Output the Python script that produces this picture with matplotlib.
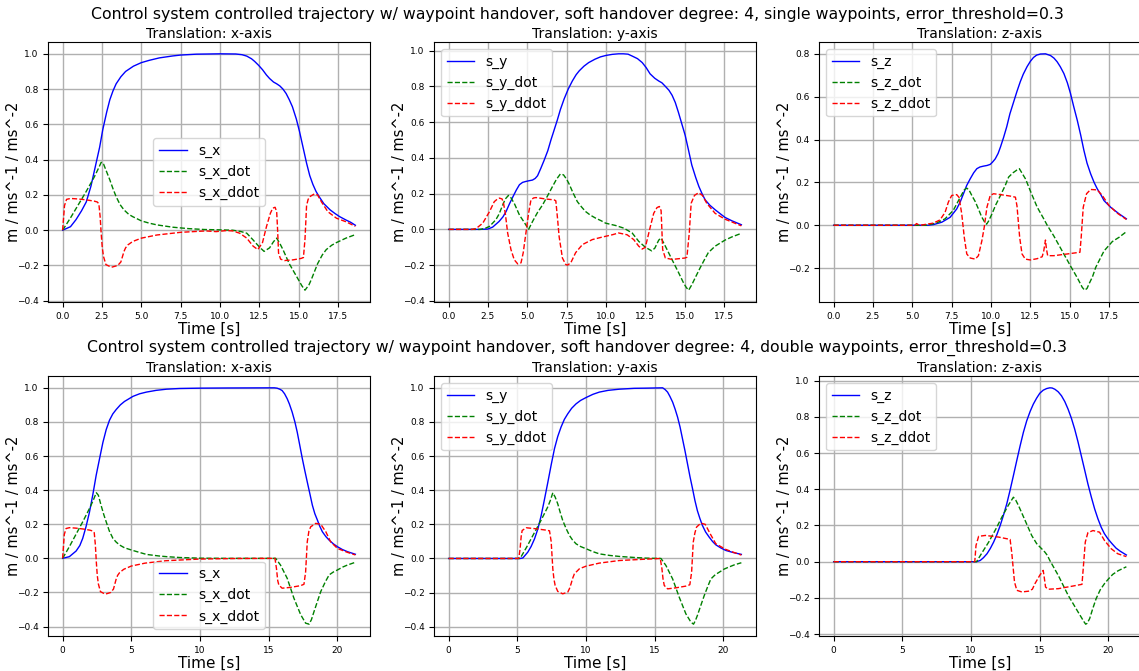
import matplotlib
matplotlib.use("Agg")
import matplotlib.pyplot as plt

# ---- single waypoints run (top row) ----
top_x_t = [0, 0.5, 0.85, 1.2, 1.5, 1.8, 2.1, 2.35, 2.55, 2.8, 3.0, 3.2, 3.4, 3.7, 4.0, 4.5, 5.0, 5.5, 6.15, 7.0, 7.5, 8.5,
           10.0, 11.0, 11.4, 11.7, 12.0, 12.2, 12.45, 12.7, 12.95, 13.15, 13.4, 13.6, 13.8, 14.0, 14.2, 14.4, 14.6, 14.85,
           15.05, 15.2, 15.35, 15.5, 15.7, 15.9, 16.1, 16.3, 16.6, 17.0, 17.3, 17.6, 18.0, 18.3, 18.6]
top_x = [0, 0.02, 0.06, 0.11, 0.16, 0.25, 0.37, 0.47, 0.57, 0.67, 0.74, 0.79, 0.83, 0.87, 0.90, 0.93, 0.95, 0.963, 0.977,
         0.988, 0.993, 0.998, 1.0, 0.999, 0.995, 0.987, 0.972, 0.957, 0.935, 0.91, 0.88, 0.86, 0.84, 0.83, 0.818, 0.80,
         0.775, 0.74, 0.70, 0.63, 0.56, 0.50, 0.44, 0.38, 0.31, 0.26, 0.22, 0.19, 0.15, 0.115, 0.095, 0.077, 0.058, 0.045,
         0.028]
top_x_dot_t = [0, 0.5, 1.0, 1.5, 2.0, 2.3, 2.45, 2.6, 2.8, 3.0, 3.2, 3.4, 3.65, 3.9, 4.2, 4.45, 5.0, 5.5, 6.0, 7.0, 8.0,
               9.0, 10.0, 10.8, 11.3, 11.7, 12.1, 12.5, 12.8, 13.15, 13.4, 13.6, 13.8, 14.0, 14.4, 14.85, 15.2, 15.4,
               15.65, 15.8, 16.0, 16.2, 16.5, 16.75, 17.1, 17.4, 18.0, 18.6]
top_x_dot = [0, 0.07, 0.145, 0.22, 0.3, 0.355, 0.385, 0.375, 0.33, 0.285, 0.235, 0.19, 0.145, 0.115, 0.09, 0.077, 0.053,
             0.04, 0.03, 0.017, 0.009, 0.004, 0.002, 0.0, -0.007, -0.017, -0.055, -0.095, -0.12, -0.1, -0.065, -0.045,
             -0.075, -0.11, -0.19, -0.26, -0.315, -0.34, -0.31, -0.28, -0.235, -0.19, -0.14, -0.11, -0.085, -0.07,
             -0.045, -0.025]
top_x_ddot_t = [0, 0.12, 0.25, 0.5, 1.0, 1.5, 2.0, 2.2, 2.3, 2.38, 2.45, 2.52, 2.6, 2.75, 3.1, 3.5, 3.7, 3.8, 3.9, 4.0,
                4.15, 4.45, 5.0, 6.0, 7.5, 9.1, 9.75, 10.4, 10.8, 11.25, 11.7, 12.1, 12.4, 12.7, 12.95, 13.2, 13.35,
                13.5, 13.6, 13.66, 13.72, 13.85, 14.1, 14.65, 15.15, 15.3, 15.4, 15.5, 15.6, 15.7, 16.0, 16.2, 16.45,
                16.85, 17.4, 18.0, 18.6]
top_x_ddot = [0, 0.14, 0.175, 0.18, 0.177, 0.172, 0.165, 0.16, 0.15, 0.08, -0.02, -0.1, -0.15, -0.195, -0.21, -0.2,
              -0.18, -0.15, -0.12, -0.1, -0.083, -0.064, -0.045, -0.027, -0.012, -0.004, -0.008, -0.002, -0.004,
              -0.017, -0.045, -0.09, -0.11, -0.07, 0.02, 0.096, 0.125, 0.13, 0.105, 0.0, -0.13, -0.164, -0.172,
              -0.168, -0.16, -0.155, -0.05, 0.14, 0.175, 0.19, 0.206, 0.2, 0.16, 0.105, 0.068, 0.048, 0.022]

top_y_t = [0, 1.0, 2.0, 2.5, 2.8, 3.2, 3.45, 3.65, 3.85, 4.07, 4.3, 4.5, 4.7, 4.9, 5.1, 5.33, 5.5, 5.65, 5.85, 6.07, 6.3,
           6.5, 6.7, 6.9, 7.1, 7.34, 7.6, 7.86, 8.1, 8.3, 8.6, 8.9, 9.3, 9.65, 10.0, 10.4, 10.8, 11.1, 11.4, 11.65,
           12.0, 12.3, 12.55, 12.8, 13.1, 13.35, 13.55, 13.77, 14.0, 14.2, 14.4, 14.6, 14.8, 15.03, 15.25, 15.45, 15.7,
           15.9, 16.1, 16.3, 16.6, 16.93, 17.25, 17.56, 18.0, 18.6]
top_y = [0, 0, 0.0, 0.002, 0.013, 0.044, 0.07, 0.1, 0.14, 0.18, 0.22, 0.25, 0.263, 0.268, 0.272, 0.276, 0.285, 0.30,
         0.34, 0.387, 0.44, 0.5, 0.555, 0.61, 0.67, 0.73, 0.785, 0.83, 0.865, 0.887, 0.913, 0.933, 0.952, 0.965, 0.973,
         0.979, 0.982, 0.982, 0.98, 0.97, 0.955, 0.933, 0.905, 0.87, 0.845, 0.83, 0.82, 0.80, 0.778, 0.75, 0.71, 0.655,
         0.595, 0.526, 0.44, 0.36, 0.29, 0.24, 0.2, 0.165, 0.135, 0.11, 0.088, 0.067, 0.048, 0.026]
top_y_dot_t = [0, 2.0, 2.3, 2.6, 3.0, 3.2, 3.44, 3.6, 3.8, 3.96, 4.2, 4.5, 4.8, 5.08, 5.33, 5.65, 5.97, 6.3, 6.6, 6.85,
               7.1, 7.3, 7.5, 7.65, 7.9, 8.18, 8.45, 8.7, 9.0, 9.34, 9.7, 9.97, 10.3, 10.6, 11.13, 11.66, 12.08, 12.5,
               12.9, 13.1, 13.35, 13.5, 13.77, 14.2, 14.6, 14.93, 15.1, 15.25, 15.45, 15.67, 15.98, 16.25, 16.5, 16.93,
               17.56, 18.0, 18.6]
top_y_dot = [0, 0, 0.005, 0.017, 0.054, 0.085, 0.137, 0.17, 0.19, 0.177, 0.14, 0.08, 0.04, 0.0, 0.044, 0.095, 0.137,
             0.19, 0.24, 0.28, 0.31, 0.305, 0.28, 0.255, 0.205, 0.155, 0.125, 0.1, 0.08, 0.063, 0.048, 0.035, 0.028,
             0.022, 0.007, -0.02, -0.067, -0.1, -0.12, -0.105, -0.06, -0.048, -0.094, -0.17, -0.24, -0.3, -0.325,
             -0.34, -0.31, -0.27, -0.215, -0.17, -0.13, -0.094, -0.06, -0.042, -0.022]
top_y_ddot_t = [0, 1.5, 1.75, 2.17, 2.6, 2.9, 3.1, 3.23, 3.4, 3.5, 3.6, 3.75, 3.96, 4.17, 4.39, 4.6, 4.74, 4.91, 5.08,
                5.23, 5.4, 5.55, 6.18, 6.7, 6.81, 6.92, 7.02, 7.23, 7.44, 7.55, 7.76, 8.07, 8.5, 9.13, 9.76, 10.4, 10.8,
                11.34, 11.76, 12.08, 12.3, 12.5, 12.82, 13.03, 13.24, 13.39, 13.5, 13.6, 13.77, 14.2, 15.03, 15.14,
                15.29, 15.41, 15.62, 15.88, 16.13, 16.4, 16.93, 17.56, 18.6]
top_y_ddot = [0, 0, 0.005, 0.035, 0.1, 0.155, 0.17, 0.175, 0.17, 0.14, 0.09, -0.02, -0.113, -0.17, -0.193, -0.187,
              -0.13, -0.02, 0.09, 0.165, 0.176, 0.178, 0.17, 0.165, 0.16, 0.06, -0.04, -0.16, -0.196, -0.2, -0.187,
              -0.13, -0.085, -0.057, -0.043, -0.03, -0.02, -0.03, -0.057, -0.094, -0.11, -0.1, 0.017, 0.09, 0.122,
              0.128, 0.105, -0.113, -0.16, -0.168, -0.16, -0.155, -0.02, 0.146, 0.19, 0.205, 0.19, 0.146, 0.09, 0.057,
              0.02]

top_z_t = [0, 5.0, 6.0, 6.34, 6.87, 7.4, 7.82, 8.05, 8.25, 8.45, 8.68, 8.9, 9.1, 9.3, 9.53, 9.75, 9.95, 10.1, 10.27,
           10.45, 10.6, 10.8, 11.0, 11.2, 11.44, 11.65, 11.86, 12.05, 12.29, 12.5, 12.7, 12.9, 13.14, 13.46, 13.78,
           14.0, 14.2, 14.4, 14.63, 14.85, 15.05, 15.25, 15.48, 15.7, 15.9, 16.1, 16.33, 16.55, 16.75, 17.0, 17.18,
           17.6, 18.14, 18.6]
top_z = [0, 0, 0.0, 0.003, 0.014, 0.037, 0.076, 0.11, 0.147, 0.185, 0.217, 0.245, 0.264, 0.272, 0.276, 0.279, 0.284,
         0.295, 0.31, 0.335, 0.365, 0.41, 0.46, 0.52, 0.576, 0.625, 0.67, 0.705, 0.74, 0.765, 0.783, 0.794, 0.799, 0.8,
         0.792, 0.78, 0.763, 0.74, 0.708, 0.665, 0.615, 0.555, 0.49, 0.42, 0.35, 0.29, 0.24, 0.2, 0.17, 0.14, 0.115,
         0.084, 0.053, 0.03]
top_z_dot_t = [0, 5.5, 5.9, 6.55, 7.08, 7.6, 8.04, 8.3, 8.46, 8.6, 8.78, 9.0, 9.2, 9.4, 9.63, 9.72, 9.85, 10.06, 10.3,
               10.6, 10.9, 11.12, 11.4, 11.65, 11.8, 12.2, 12.5, 12.93, 13.35, 13.57, 13.99, 14.52, 15.05, 15.48, 15.8,
               15.95, 16.1, 16.22, 16.45, 16.65, 17.18, 17.71, 18.14, 18.6]
top_z_dot = [0, 0, 0.0, 0.011, 0.03, 0.069, 0.13, 0.165, 0.173, 0.165, 0.139, 0.11, 0.076, 0.04, 0.01, 0.005, 0.02,
             0.053, 0.095, 0.139, 0.185, 0.225, 0.245, 0.258, 0.264, 0.215, 0.16, 0.085, 0.03, 0.0, -0.05, -0.12,
             -0.19, -0.245, -0.29, -0.303, -0.295, -0.275, -0.24, -0.197, -0.12, -0.076, -0.056, -0.03]
top_z_ddot_t = [0, 5.15, 5.27, 5.4, 5.5, 6.34, 6.76, 7.08, 7.29, 7.5, 7.82, 7.97, 8.14, 8.3, 8.46, 8.68, 9.0, 9.2, 9.42,
                9.57, 9.74, 9.95, 10.16, 10.6, 11.23, 11.55, 11.65, 11.82, 11.97, 12.18, 12.5, 12.93, 13.25, 13.35,
                13.46, 13.52, 13.6, 13.99, 14.84, 15.65, 15.73, 15.86, 16.07, 16.33, 16.75, 17.07, 17.5, 18.03, 18.6]
top_z_ddot = [0, 0, 0.008, 0.002, 0.0, 0.01, 0.025, 0.06, 0.108, 0.139, 0.143, 0.13, 0.053, -0.056, -0.134, -0.153,
              -0.158, -0.142, -0.072, -0.009, 0.084, 0.139, 0.147, 0.143, 0.136, 0.131, 0.09, -0.056, -0.134, -0.158,
              -0.162, -0.156, -0.147, -0.12, -0.069, -0.11, -0.142, -0.142, -0.134, -0.126, -0.056, 0.084, 0.147,
              0.167, 0.165, 0.139, 0.092, 0.056, 0.027]

# ---- double waypoints run (bottom row) ----
bot_x_t = [0, 0.49, 0.98, 1.25, 1.46, 1.7, 1.95, 2.2, 2.44, 2.7, 2.93, 3.17, 3.41, 3.65, 3.9, 4.2, 4.5, 5.12, 5.6, 6.1,
           6.8, 7.56, 8.5, 10.0, 12.0, 15.4, 15.6, 15.8, 15.97, 16.15, 16.34, 16.5, 16.7, 16.9, 17.07, 17.25, 17.44,
           17.62, 17.8, 18.0, 18.17, 18.35, 18.54, 18.7, 18.9, 19.15, 19.39, 19.7, 20.0, 20.35, 20.73, 21.3]
bot_x = [0, 0.01, 0.043, 0.075, 0.117, 0.185, 0.27, 0.375, 0.487, 0.59, 0.68, 0.755, 0.81, 0.847, 0.873, 0.9, 0.92,
         0.95, 0.965, 0.975, 0.985, 0.992, 0.996, 0.998, 0.999, 1.0, 0.998, 0.992, 0.984, 0.965, 0.936, 0.905, 0.858,
         0.8, 0.74, 0.665, 0.585, 0.515, 0.448, 0.375, 0.312, 0.262, 0.224, 0.19, 0.156, 0.128, 0.107, 0.085, 0.068,
         0.052, 0.039, 0.024]
bot_x_dot_t = [0, 0.5, 1.0, 1.5, 2.0, 2.25, 2.45, 2.6, 2.8, 3.0, 3.17, 3.4, 3.66, 3.9, 4.15, 4.5, 5.0, 5.5, 6.1, 7.0,
               7.56, 8.5, 10.0, 12.0, 15.5, 15.85, 16.34, 16.83, 17.32, 17.68, 17.93, 18.1, 18.3, 18.55, 18.78, 19.1,
               19.39, 19.7, 20.0, 20.35, 20.73, 21.3]
bot_x_dot = [0, 0.07, 0.145, 0.22, 0.3, 0.345, 0.385, 0.37, 0.31, 0.255, 0.214, 0.16, 0.117, 0.095, 0.078, 0.062,
             0.049, 0.037, 0.023, 0.014, 0.01, 0.005, 0.001, 0.0, 0.0, -0.039, -0.117, -0.234, -0.33, -0.38, -0.386,
             -0.36, -0.31, -0.25, -0.195, -0.14, -0.097, -0.08, -0.068, -0.052, -0.039, -0.023]
bot_x_ddot_t = [0, 0.12, 0.25, 0.5, 1.0, 1.5, 2.0, 2.2, 2.3, 2.38, 2.45, 2.52, 2.6, 2.75, 3.1, 3.5, 3.7, 3.8, 3.9, 4.0,
                4.15, 4.45, 5.0, 6.0, 7.5, 10.0, 12.5, 15.45, 15.56, 15.65, 15.73, 15.97, 16.6, 17.32, 17.56, 17.68,
                17.8, 17.92, 18.05, 18.41, 18.78, 19.15, 19.5, 20.0, 20.73, 21.3]
bot_x_ddot = [0, 0.14, 0.175, 0.18, 0.177, 0.172, 0.165, 0.16, 0.15, 0.08, -0.02, -0.1, -0.15, -0.195, -0.21, -0.2,
              -0.18, -0.15, -0.12, -0.1, -0.083, -0.064, -0.045, -0.028, -0.014, -0.004, -0.001, 0.0, -0.06, -0.13,
              -0.156, -0.175, -0.17, -0.16, -0.152, -0.08, 0.097, 0.16, 0.185, 0.205, 0.2, 0.156, 0.097, 0.058, 0.035,
              0.02]

bot_y_t = [0, 5.2, 5.4, 5.76, 6.0, 6.25, 6.5, 6.73, 6.97, 7.22, 7.46, 7.7, 7.94, 8.18, 8.42, 8.67, 8.95, 9.27, 9.6, 10.0,
           10.5, 10.97, 11.6, 12.42, 13.5, 14.36, 15.57, 15.75, 15.93, 16.1, 16.3, 16.48, 16.66, 16.84, 17.02, 17.2,
           17.38, 17.56, 17.75, 17.92, 18.1, 18.28, 18.47, 18.7, 18.96, 19.2, 19.44, 19.8, 20.17, 20.7, 21.3]
bot_y = [0, 0, 0.003, 0.037, 0.07, 0.115, 0.175, 0.25, 0.345, 0.447, 0.548, 0.643, 0.715, 0.77, 0.815, 0.848, 0.88,
         0.906, 0.926, 0.943, 0.962, 0.975, 0.985, 0.992, 0.997, 0.998, 1.0, 0.99, 0.975, 0.95, 0.916, 0.875, 0.828,
         0.77, 0.70, 0.63, 0.555, 0.48, 0.408, 0.34, 0.28, 0.235, 0.193, 0.155, 0.125, 0.1, 0.08, 0.062, 0.047, 0.035,
         0.024]
bot_y_dot_t = [0, 5.2, 5.7, 6.2, 6.7, 7.2, 7.4, 7.58, 7.75, 7.94, 8.1, 8.3, 8.55, 8.79, 9.0, 9.27, 9.6, 10.0, 10.5,
               10.97, 11.7, 12.42, 13.5, 14.36, 15.45, 15.81, 16.3, 16.78, 17.26, 17.63, 17.82, 17.95, 18.1, 18.35,
               18.6, 18.85, 19.08, 19.4, 19.7, 20.05, 20.4, 20.8, 21.3]
bot_y_dot = [0, 0, 0.07, 0.145, 0.22, 0.3, 0.34, 0.385, 0.36, 0.32, 0.275, 0.223, 0.175, 0.135, 0.11, 0.086, 0.07,
             0.057, 0.04, 0.027, 0.018, 0.012, 0.006, 0.002, 0.0, -0.041, -0.12, -0.227, -0.324, -0.373, -0.385,
             -0.365, -0.334, -0.275, -0.217, -0.165, -0.12, -0.095, -0.08, -0.062, -0.05, -0.037, -0.025]
bot_y_ddot_t = [0, 5.1, 5.2, 5.28, 5.35, 5.64, 6.37, 7.1, 7.34, 7.46, 7.58, 7.66, 7.75, 7.94, 8.3, 8.67, 8.8, 8.91,
                9.03, 9.15, 9.52, 10.0, 10.97, 12.42, 14.36, 15.4, 15.52, 15.6, 15.69, 15.93, 16.54, 17.26, 17.55,
                17.68, 17.8, 17.92, 18.04, 18.35, 18.67, 19.03, 19.44, 20.17, 20.7, 21.3]
bot_y_ddot = [0, 0, 0.057, 0.13, 0.164, 0.18, 0.174, 0.166, 0.162, 0.1, -0.06, -0.12, -0.158, -0.193, -0.207, -0.197,
              -0.175, -0.148, -0.115, -0.09, -0.06, -0.045, -0.027, -0.012, -0.004, 0.0, -0.06, -0.12, -0.158, -0.178,
              -0.172, -0.162, -0.154, -0.08, 0.096, 0.15, 0.184, 0.207, 0.2, 0.145, 0.086, 0.053, 0.037, 0.02]

bot_z_t = [0, 10.4, 10.67, 10.9, 11.16, 11.4, 11.64, 11.88, 12.12, 12.36, 12.6, 12.84, 13.08, 13.33, 13.57, 13.81,
           14.05, 14.3, 14.53, 14.77, 15.0, 15.25, 15.5, 15.73, 15.9, 16.1, 16.34, 16.58, 16.82, 17.06, 17.3, 17.54,
           17.78, 18.02, 18.26, 18.5, 18.75, 18.99, 19.23, 19.47, 19.7, 19.95, 20.25, 20.55, 20.85, 21.3]
bot_z = [0, 0, 0.007, 0.022, 0.044, 0.073, 0.108, 0.15, 0.2, 0.257, 0.32, 0.395, 0.475, 0.56, 0.64, 0.715, 0.778, 0.83,
         0.87, 0.903, 0.93, 0.947, 0.956, 0.96, 0.959, 0.952, 0.938, 0.916, 0.884, 0.842, 0.792, 0.732, 0.662, 0.585,
         0.508, 0.43, 0.357, 0.292, 0.237, 0.19, 0.155, 0.127, 0.1, 0.075, 0.058, 0.037]
bot_z_dot_t = [0, 10.4, 10.8, 11.28, 11.8, 12.24, 12.7, 13.08, 13.25, 13.45, 13.93, 14.41, 14.77, 15.13, 15.37, 15.55,
               15.73, 16.34, 17.06, 17.78, 18.22, 18.34, 18.45, 18.63, 18.85, 19.1, 19.4, 19.71, 20.0, 20.31, 20.7,
               21.3]
bot_z_dot = [0, 0, 0.05, 0.108, 0.18, 0.246, 0.31, 0.356, 0.34, 0.31, 0.228, 0.145, 0.1, 0.072, 0.053, 0.035, 0.007,
             -0.075, -0.185, -0.277, -0.332, -0.345, -0.34, -0.314, -0.26, -0.204, -0.155, -0.121, -0.095, -0.07,
             -0.05, -0.028]
bot_z_ddot_t = [0, 10.27, 10.36, 10.55, 11.04, 12.0, 12.84, 12.96, 13.16, 13.33, 13.69, 14.17, 14.46, 14.65, 15.0,
                15.25, 15.33, 15.42, 15.61, 16.34, 17.3, 18.07, 18.17, 18.31, 18.5, 18.87, 19.35, 19.71, 20.19, 20.67,
                21.3]
bot_z_ddot = [0, 0, 0.09, 0.14, 0.145, 0.136, 0.123, 0.05, -0.112, -0.158, -0.167, -0.163, -0.152, -0.121, -0.075,
              -0.048, -0.09, -0.14, -0.152, -0.149, -0.136, -0.125, -0.03, 0.108, 0.16, 0.172, 0.163, 0.117, 0.072,
              0.044, 0.028]

row_titles = [
    "Control system controlled trajectory w/ waypoint handover, soft handover degree: 4, single waypoints, error_threshold=0.3",
    "Control system controlled trajectory w/ waypoint handover, soft handover degree: 4, double waypoints, error_threshold=0.3",
]
axis_names = ["x", "y", "z"]

rows = [
    [(top_x_t, top_x, top_x_dot_t, top_x_dot, top_x_ddot_t, top_x_ddot, "center"),
     (top_y_t, top_y, top_y_dot_t, top_y_dot, top_y_ddot_t, top_y_ddot, "upper left"),
     (top_z_t, top_z, top_z_dot_t, top_z_dot, top_z_ddot_t, top_z_ddot, "upper left")],
    [(bot_x_t, bot_x, bot_x_dot_t, bot_x_dot, bot_x_ddot_t, bot_x_ddot, "lower center"),
     (bot_y_t, bot_y, bot_y_dot_t, bot_y_dot, bot_y_ddot_t, bot_y_ddot, "upper left"),
     (bot_z_t, bot_z, bot_z_dot_t, bot_z_dot, bot_z_ddot_t, bot_z_ddot, "upper left")],
]

W, H = 1139, 671
fig = plt.figure(figsize=(W / 100, H / 100), dpi=100)

col_left = [48, 434, 819]
row_bottom = [302, 636]
ax_w, ax_h = 322, 260
title_y = [15, 348]

for r, row in enumerate(rows):
    fig.text(577 / W, 1 - title_y[r] / H, row_titles[r], ha="center", va="center", fontsize=11.3)
    for c, (t, s, td, sd, tdd, sdd, loc) in enumerate(row):
        ax = fig.add_axes([col_left[c] / W, 1 - row_bottom[r] / H, ax_w / W, ax_h / H])
        n = axis_names[c]
        ax.plot(t, s, "b-", lw=1.0, label="s_" + n)
        ax.plot(td, sd, "g--", lw=1.0, label="s_" + n + "_dot")
        ax.plot(tdd, sdd, "r--", lw=1.0, label="s_" + n + "_ddot")
        ax.set_title("Translation: " + n + "-axis", fontsize=10, pad=3)
        ax.set_xlabel("Time [s]", fontsize=11, labelpad=1)
        ax.set_ylabel("m / ms^-1 / ms^-2", fontsize=10.5)
        ax.yaxis.set_label_coords(-0.085, 0.5)
        ax.tick_params(labelsize=6.5)
        ax.grid(True, color="#b0b0b0", lw=1.0)
        ax.legend(loc=loc, fontsize=10)

fig.savefig("out.png", dpi=100)
